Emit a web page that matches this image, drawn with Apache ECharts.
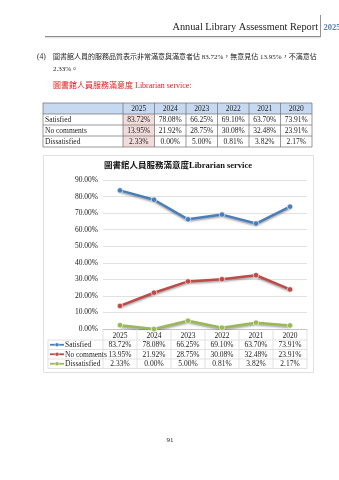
<!DOCTYPE html>
<html><head><meta charset="utf-8">
<script src="https://cdn.jsdelivr.net/npm/echarts@6/dist/echarts.min.js"></script>
<style>html,body{margin:0;padding:0;background:#fff}#c{width:339px;height:480px}</style>
</head><body><div id="c"></div>
<script>
const years = ['2025','2024','2023','2022','2021','2020'];
const seriesNames = ['Satisfied','No comments','Dissatisfied'];
const satisfied = [83.72,78.08,66.25,69.10,63.70,73.91];
const noComments = [13.95,21.92,28.75,30.08,32.48,23.91];
const dissatisfied = [2.33,0.00,5.00,0.81,3.82,2.17];
const yMin = 0, yMax = 90, yStep = 10;
const headerTitle = 'Annual Library Assessment Report';
const headerYear = '2025';
const paraLine1 = '圖書館人員的服務品質表示非常滿意與滿意者佔 83.72%，無意見佔 13.95%，不滿意佔';
const paraLine2 = '2.33%。';
const subTitle = '圖書館人員服務滿意度 Librarian service:';
const chartTitle = '圖書館人員服務滿意度Librarian service';
const pageNo = '91';

const seriesData = [satisfied, noComments, dissatisfied];
const colors = ['#4a7ebb','#be4b48','#98b954'];
const serif = '"Liberation Serif","Times New Roman",serif';
const mixed = '"Liberation Serif","Noto Sans CJK TC",serif';
const pct = v => v.toFixed(2) + '%';

const chart = echarts.init(document.getElementById('c'));
const G = {left:103, right:32, top:180, bottom:151};

function txt(x,y,text,o){
  o = o||{};
  return {type:'text', x:x, y:y, z:o.z||10, silent:true, style:{text:text, fontSize:o.size||7.5, fontFamily:o.family||serif,
    fontWeight:o.weight||'normal', fill:o.color||'#222', textAlign:o.align||'left', textVerticalAlign:'middle'}};
}
function ln(x1,y1,x2,y2,c,w){
  return {type:'line', z:5, silent:true, shape:{x1:x1,y1:y1,x2:x2,y2:y2}, style:{stroke:c, lineWidth:w||0.6}};
}
function rect(x,y,w,h,fill,stroke){
  return {type:'rect', z:1, silent:true, shape:{x:x,y:y,width:w,height:h}, style:{fill:fill||'none', stroke:stroke||null, lineWidth:0.8}};
}

chart.setOption({
  animation:false,
  grid: G,
  xAxis: {type:'category', data:years, boundaryGap:true,
    axisLine:{lineStyle:{color:'#bfbfbf', width:0.8}}, axisTick:{show:false},
    axisLabel:{fontFamily:serif, fontSize:7.5, color:'#222', margin:3}},
  yAxis: {type:'value', min:yMin, max:yMax, interval:yStep,
    axisLabel:{formatter:v=>pct(v), fontFamily:serif, fontSize:7.5, color:'#222', margin:5},
    splitLine:{lineStyle:{color:'#d9d9d9', width:0.8}}, axisLine:{show:false}, axisTick:{show:false}},
  series: seriesNames.map((n,i)=>({name:n, type:'line', data:seriesData[i], symbol:'circle', symbolSize:5.5,
    lineStyle:{width:2.5, color:colors[i], shadowColor:'rgba(0,0,0,0.35)', shadowBlur:2, shadowOffsetY:1.5},
    itemStyle:{color:colors[i], borderColor:'#ffffff', borderWidth:0.6}}))
});

const g = [];
// header
g.push(txt(318, 27, headerTitle, {size:10.3, align:'right', color:'#222'}));
g.push(txt(323.5, 28, headerYear, {size:8.5, weight:'bold', color:'#5a7faa'}));
g.push(ln(320.5, 15, 320.5, 37, '#777', 0.8));
g.push(ln(45, 36.5, 320.5, 36.5, '#8a8a8a', 1));
g.push(ln(45, 37.8, 320.5, 37.8, '#dddddd', 1));
// paragraph
g.push(txt(37, 57, '(4)', {size:7.5, family:serif}));
g.push(txt(53, 57, paraLine1, {size:7, family:mixed}));
g.push(txt(53, 69, paraLine2, {size:7, family:mixed}));
g.push(txt(53, 86, subTitle, {size:8, family:mixed, color:'#e21b1b'}));

// top table
const tx = [43,123]; for (let i=1;i<=6;i++) tx.push(123+31.5*i);
const ty = [103,114,125,136,147];
g.push(rect(tx[0], ty[0], tx[7]-tx[0], ty[1]-ty[0], '#c6d9f1'));
g.push(rect(tx[1], ty[1], tx[2]-tx[1], ty[4]-ty[1], '#f2dcdb'));
ty.forEach(y=>g.push(ln(tx[0], y, tx[7], y, '#6f6f6f', 0.7)));
tx.forEach(x=>g.push(ln(x, ty[0], x, ty[4], '#6f6f6f', 0.7)));
years.forEach((yr,j)=>g.push(txt((tx[j+1]+tx[j+2])/2, (ty[0]+ty[1])/2+0.5, yr, {align:'center'})));
seriesNames.forEach((n,i)=>{
  g.push(txt(tx[0]+2, (ty[i+1]+ty[i+2])/2+0.5, n));
  seriesData[i].forEach((v,j)=>g.push(txt((tx[j+1]+tx[j+2])/2, (ty[i+1]+ty[i+2])/2+0.5, pct(v), {align:'center'})));
});

// chart box and title
g.push(rect(43.5, 155.5, 270, 217, 'none', '#d9d9d9'));
g.push(txt(178, 166, chartTitle, {size:8.5, weight:'bold', family:mixed, align:'center', color:'#111'}));

// data table under chart
const centers = years.map(y=>chart.convertToPixel({xAxisIndex:0}, y));
const colW = centers[1]-centers[0];
const bx = [centers[0]-colW/2].concat(centers.map(c=>c+colW/2));
const axisY = 480 - G.bottom;
const rowTop = 340, rowH = 9.5;
const tableLeft = 48;
const rowYs = [0,1,2,3].map(k=>rowTop + rowH*k);
rowYs.forEach(y=>g.push(ln(tableLeft, y, bx[6], y, '#d9d9d9', 0.8)));
g.push(ln(tableLeft, rowTop, tableLeft, rowYs[3], '#d9d9d9', 0.8));
bx.forEach(x=>g.push(ln(x, axisY, x, rowYs[3], '#d9d9d9', 0.8)));
seriesNames.forEach((n,i)=>{
  const cy = rowTop + rowH*i + rowH/2;
  g.push(ln(50, cy, 64, cy, colors[i], 1.8));
  g.push({type:'circle', z:6, silent:true, shape:{cx:57, cy:cy, r:2}, style:{fill:colors[i], stroke:'#fff', lineWidth:0.5}});
  g.push(txt(65, cy+0.5, n, {size:7.5}));
  seriesData[i].forEach((v,j)=>g.push(txt(centers[j], cy+0.5, pct(v), {align:'center'})));
});

g.push(txt(170, 440, pageNo, {size:7, align:'center'}));

chart.setOption({graphic: g});
</script>
</body></html>
